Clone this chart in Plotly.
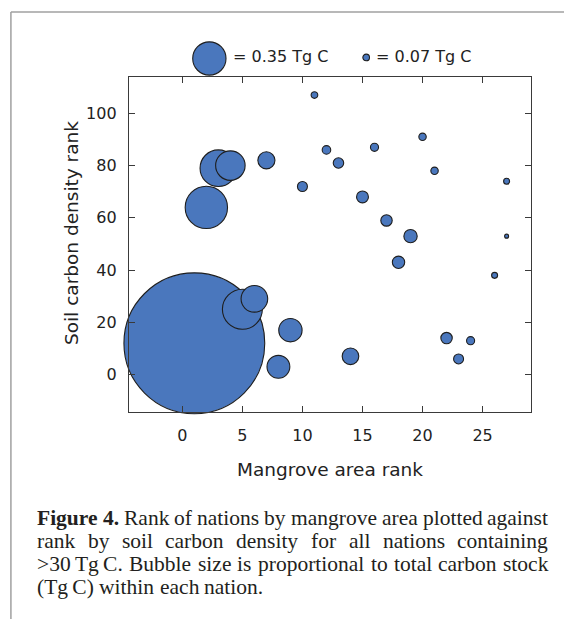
import plotly.graph_objects as go

# ---------------- data ----------------
area_rank = [1, 2, 3, 4, 5, 6, 7, 8, 9, 10, 11, 12, 13, 14, 15, 16, 17, 18, 19,
             20, 21, 22, 23, 24, 26, 27, 27]
soil_rank = [12, 64, 79, 80, 25, 29, 82, 3, 17, 72, 107, 86, 81, 7, 68, 87, 59,
             43, 53, 91, 78, 14, 6, 13, 38, 74, 53]
carbon_stock = [1.48, 0.445, 0.385, 0.31, 0.42, 0.28, 0.18, 0.24, 0.245, 0.105,
                0.07, 0.09, 0.11, 0.175, 0.125, 0.085, 0.12, 0.13, 0.14, 0.078,
                0.078, 0.12, 0.105, 0.085, 0.063, 0.063, 0.042]
legend_values = [0.35, 0.07]
legend_labels = ["= 0.35 Tg C", "= 0.07 Tg C"]
x_ticks = [0, 5, 10, 15, 20, 25]
y_ticks = [0, 20, 40, 60, 80, 100]
x_title = "Mangrove area rank"
y_title = "Soil carbon density rank"
caption_lines = [
    [("Figure", True), ("4.", True), ("Rank", False), ("of", False), ("nations", False),
     ("by", False), ("mangrove", False), ("area", False), ("plotted", False), ("against", False)],
    [("rank", False), ("by", False), ("soil", False), ("carbon", False), ("density", False),
     ("for", False), ("all", False), ("nations", False), ("containing", False)],
    [(">30\u2009Tg\u2009C.", False), ("Bubble", False), ("size", False), ("is", False),
     ("proportional", False), ("to", False), ("total", False), ("carbon", False), ("stock", False)],
    [("(Tg\u2009C)", False), ("within", False), ("each", False), ("nation.", False)],
]

# ---------------- layout constants ----------------
W, H = 564, 619
L, R, T, B = 129, 530.7, 77, 411.7
FILL = "#4a77bd"
EDGE = "#1e1e1e"
AX = "#3a3a3a"
TXT = "#222222"
SANS = "DejaVu Sans"
SERIF = "Liberation Serif"
PX_PER_UNIT = 33.3 / 0.35  # bubble diameter px per Tg C (from legend)


def px_x(px):
    return (px - L) / (R - L)


def px_y(py):
    return (B - py) / (B - T)


fig = go.Figure()
fig.add_trace(go.Scatter(
    x=area_rank, y=soil_rank, mode="markers",
    marker=dict(size=carbon_stock, sizemode="diameter", sizeref=1 / PX_PER_UNIT,
                color=FILL, opacity=1, line=dict(color=EDGE, width=1.1)),
    cliponaxis=False, showlegend=False, hoverinfo="x+y",
))

axis_common = dict(showgrid=False, zeroline=False, showline=True, mirror="ticks",
                   linecolor=AX, linewidth=1.4, ticks="inside", ticklen=6,
                   tickwidth=1.2, tickcolor=AX,
                   tickfont=dict(family=SANS, size=16, color=TXT))
fig.update_xaxes(range=[-4.44, 29.03], tickvals=x_ticks, ticklabelstandoff=9, **axis_common)
fig.update_yaxes(range=[-14.3, 113.9], tickvals=y_ticks, ticklabelstandoff=8, **axis_common)

annotations = []
shapes = []

# axis titles
annotations.append(dict(text=x_title, x=px_x(330), y=px_y(469), xref="paper", yref="paper",
                        xanchor="center", yanchor="middle", showarrow=False,
                        font=dict(family=SANS, size=18.5, color=TXT)))
annotations.append(dict(text=y_title, x=px_x(71), y=px_y(233), xref="paper", yref="paper",
                        xanchor="center", yanchor="middle", showarrow=False, textangle=-90,
                        font=dict(family=SANS, size=18.5, color=TXT)))

# bubble-size legend
leg_cx = [209.3, 366.0]
leg_cy = [58.5, 57.5]
leg_tx = [232.5, 375.5]
for v, lab, cx, cy, tx in zip(legend_values, legend_labels, leg_cx, leg_cy, leg_tx):
    r = v * PX_PER_UNIT / 2
    shapes.append(dict(type="circle", xref="paper", yref="paper",
                       xsizemode="pixel", ysizemode="pixel",
                       xanchor=px_x(cx), yanchor=px_y(cy),
                       x0=-r, x1=r, y0=-r, y1=r,
                       fillcolor=FILL, line=dict(color=EDGE, width=1.1)))
    annotations.append(dict(text=lab, x=px_x(tx), y=px_y(57), xref="paper", yref="paper",
                            xanchor="left", yanchor="middle", showarrow=False,
                            borderpad=0, borderwidth=0,
                            font=dict(family=SANS, size=16, color=TXT)))

# outer frame (page rule lines)
FRAME = "#a0a0a0"
shapes.append(dict(type="line", xref="paper", yref="paper", x0=px_x(11), x1=px_x(W + 2),
                   y0=px_y(12), y1=px_y(12), line=dict(color=FRAME, width=1.5)))
shapes.append(dict(type="line", xref="paper", yref="paper", x0=px_x(11), x1=px_x(11),
                   y0=px_y(12), y1=px_y(H + 2), line=dict(color=FRAME, width=1.5)))

# caption, justified word by word (Times metrics == Liberation Serif)
TR = {' ': 250, 'a': 444, 'b': 500, 'c': 444, 'd': 500, 'e': 444, 'f': 333, 'g': 500,
      'h': 500, 'i': 278, 'k': 500, 'l': 278, 'm': 778, 'n': 500, 'o': 500, 'p': 500,
      'r': 333, 's': 389, 't': 278, 'u': 500, 'v': 500, 'w': 722, 'y': 500, 'z': 444,
      'B': 667, 'C': 667, 'R': 667, 'T': 611, 'F': 556, '(': 333, ')': 333, '.': 250,
      '>': 564, '0': 500, '3': 500, '4': 500, '\u2009': 200}
TB = {'F': 611, 'i': 278, 'g': 500, 'u': 556, 'r': 444, 'e': 444, '4': 500, '.': 250}
CAP_SIZE = 21.5
CAP_LEFT, CAP_RIGHT = 37, 548
cap_y = [518, 541, 564, 587]


def wwidth(word, bold):
    tab = TB if bold else TR
    return sum(tab.get(ch, TR.get(ch, 500)) for ch in word) / 1000 * CAP_SIZE


for li, (words, yy) in enumerate(zip(caption_lines, cap_y)):
    widths = [wwidth(w, b) for w, b in words]
    justify = li < len(caption_lines) - 1
    if justify:
        gap = (CAP_RIGHT - CAP_LEFT - sum(widths)) / (len(words) - 1)
    else:
        gap = TR[' '] / 1000 * CAP_SIZE
    xx = CAP_LEFT
    for (w, b), wd in zip(words, widths):
        txt = w.replace('>', '&gt;')
        if b:
            txt = "<b>" + txt + "</b>"
        annotations.append(dict(text=txt, x=px_x(xx), y=px_y(yy), xref="paper", yref="paper",
                                xanchor="left", yanchor="middle", showarrow=False,
                                borderpad=0, borderwidth=0,
                                font=dict(family=SERIF, size=CAP_SIZE, color="#231f20")))
        xx += wd + gap

fig.update_layout(
    width=W, height=H, autosize=False,
    margin=dict(l=L, r=W - R, t=T, b=H - B, pad=0),
    paper_bgcolor="white", plot_bgcolor="white",
    annotations=annotations, shapes=shapes,
)

fig.write_html("out.html", config={"displayModeBar": False},
               post_script="document.body.style.margin='0px';")
